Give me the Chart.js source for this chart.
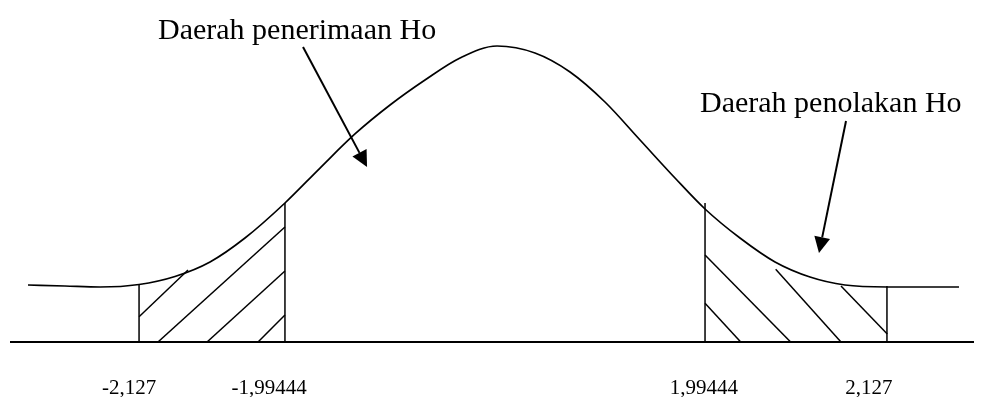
<!DOCTYPE html>
<html>
<head>
<meta charset="utf-8">
<script src="https://cdn.jsdelivr.net/npm/chart.js@4"></script>
<style>
  html, body { margin: 0; padding: 0; background: #fff; }
  #wrap { width: 984px; height: 397px; }
</style>
</head>
<body>
<div id="wrap"><canvas id="chart"></canvas></div>
<script>
// curve (x in axis units, y = height above the baseline)
var curveX = [-4.341, -3.995, -3.667, -3.302, -2.966, -2.638, -2.311, -1.937, -1.609, -1.282,
  -0.954, -0.627, -0.299, 0.047, 0.402, 0.730, 1.057, 1.385, 1.712, 1.993,
  2.320, 2.648, 2.975, 3.302, 3.695, 4.004, 4.369];
var curveY = [0.0750, 0.0737, 0.0724, 0.0757, 0.0862, 0.1053, 0.1368, 0.1829, 0.2289, 0.2737,
  0.3118, 0.3447, 0.3737, 0.3895, 0.3803, 0.3553, 0.3158, 0.2658, 0.2158, 0.1750,
  0.1368, 0.1053, 0.0855, 0.0750, 0.0724, 0.0724, 0.0724];

// vertical boundary lines
var boundX = [-3.302, -1.937, 1.993, 3.695];
var boundTop = [0.0757, 0.1829, 0.1829, 0.0737];

// hatch strokes [x1, y1, x2, y2]
var hatchLeft = [
  [-3.302, 0.0333, -2.844, 0.0947],
  [-3.125, 0, -1.937, 0.1513],
  [-2.666, 0, -1.937, 0.0934],
  [-2.189, 0, -1.937, 0.0355]
];
var hatchRight = [
  [1.993, 0.0509, 2.327, 0],
  [1.993, 0.1145, 2.794, 0],
  [2.654, 0.0957, 3.265, 0],
  [3.265, 0.0737, 3.698, 0.0105]
];

// tick labels under the axis
var tickPos = [-3.396, -2.086, 1.983, 3.527];
var tickLabels = ["-2,127", "-1,99444", "1,99444", "2,127"];

// callouts: text anchor and arrow [x1, y1, x2, y2]
var notes = [
  { text: "Daerah penerimaan Ho", x: -3.125, y: 0.3987, arrow: [-1.768, 0.3882, -1.169, 0.2303] },
  { text: "Daerah penolakan Ho", x: 1.946, y: 0.3026, arrow: [3.312, 0.2908, 3.059, 0.1171] }
];

var INK = "#000";

function seg(s) {
  return {
    data: [{ x: s[0], y: s[1] }, { x: s[2], y: s[3] }],
    borderColor: INK, borderWidth: 1.5, pointRadius: 0, tension: 0
  };
}

var datasets = [{
  label: "curve",
  data: curveX.map(function (x, i) { return { x: x, y: curveY[i] }; }),
  borderColor: INK,
  borderWidth: 1.7,
  pointRadius: 0,
  cubicInterpolationMode: "monotone"
}];
boundX.forEach(function (x, i) { datasets.push(seg([x, 0, x, boundTop[i]])); });
hatchLeft.concat(hatchRight).forEach(function (s) { datasets.push(seg(s)); });

var callouts = {
  id: "callouts",
  afterDraw: function (chart) {
    var ctx = chart.ctx, xs = chart.scales.x, ys = chart.scales.y;
    ctx.save();
    ctx.fillStyle = INK;
    ctx.strokeStyle = INK;
    ctx.font = "30px 'Liberation Serif'";
    ctx.textBaseline = "alphabetic";
    ctx.textAlign = "left";
    notes.forEach(function (n) {
      ctx.fillText(n.text, xs.getPixelForValue(n.x), ys.getPixelForValue(n.y));
      var x1 = xs.getPixelForValue(n.arrow[0]), y1 = ys.getPixelForValue(n.arrow[1]);
      var x2 = xs.getPixelForValue(n.arrow[2]), y2 = ys.getPixelForValue(n.arrow[3]);
      var a = Math.atan2(y2 - y1, x2 - x1), len = 16, half = 8;
      var bx = x2 - Math.cos(a) * len, by = y2 - Math.sin(a) * len;
      ctx.lineWidth = 2;
      ctx.beginPath();
      ctx.moveTo(x1, y1);
      ctx.lineTo(bx, by);
      ctx.stroke();
      ctx.beginPath();
      ctx.moveTo(x2, y2);
      ctx.lineTo(bx + Math.sin(a) * half, by - Math.cos(a) * half);
      ctx.lineTo(bx - Math.sin(a) * half, by + Math.cos(a) * half);
      ctx.closePath();
      ctx.fill();
    });
    ctx.restore();
  }
};

new Chart(document.getElementById("chart"), {
  type: "line",
  data: { datasets: datasets },
  plugins: [callouts],
  options: {
    responsive: true,
    maintainAspectRatio: false,
    animation: false,
    layout: { padding: { left: 11, right: 11, top: 0, bottom: 0 } },
    plugins: { legend: { display: false }, tooltip: { enabled: false } },
    scales: {
      x: {
        type: "linear",
        min: -4.5,
        max: 4.5,
        grid: { display: false, drawTicks: false },
        border: { display: true, color: INK, width: 2 },
        afterBuildTicks: function (scale) {
          scale.ticks = tickPos.map(function (v) { return { value: v }; });
        },
        afterFit: function (scale) { scale.height = 55; },
        ticks: {
          autoSkip: false,
          maxRotation: 0,
          padding: 34,
          color: INK,
          font: { family: "'Liberation Serif'", size: 21 },
          callback: function (value, index) { return tickLabels[index]; }
        }
      },
      y: {
        display: false,
        min: 0,
        max: 0.45
      }
    }
  }
});
</script>
</body>
</html>
